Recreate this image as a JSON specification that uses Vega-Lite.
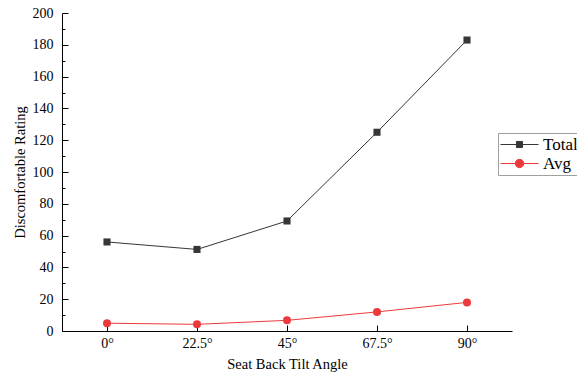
{
  "$schema": "https://vega.github.io/schema/vega-lite/v6.json",
  "width": 450,
  "height": 318,
  "autosize": {"type": "none"},
  "padding": {"left": 62, "top": 13, "right": 65, "bottom": 43},
  "background": "white",
  "config": {
    "view": {"stroke": null},
    "font": "Liberation Serif",
    "axis": {
      "domainColor": "black",
      "tickColor": "black",
      "labelColor": "black",
      "titleColor": "black",
      "labelFont": "Liberation Serif",
      "titleFont": "Liberation Serif",
      "labelFontSize": 14,
      "titleFontSize": 14.5,
      "titleFontWeight": "normal",
      "grid": false,
      "domainWidth": 1,
      "tickWidth": 1
    }
  },
  "data": {
    "values": [
      {"angle": "0°", "series": "Total", "value": 56},
      {"angle": "22.5°", "series": "Total", "value": 51.3},
      {"angle": "45°", "series": "Total", "value": 69.2},
      {"angle": "67.5°", "series": "Total", "value": 125},
      {"angle": "90°", "series": "Total", "value": 183},
      {"angle": "0°", "series": "Avg", "value": 4.9},
      {"angle": "22.5°", "series": "Avg", "value": 4.2},
      {"angle": "45°", "series": "Avg", "value": 6.7},
      {"angle": "67.5°", "series": "Avg", "value": 12},
      {"angle": "90°", "series": "Avg", "value": 18}
    ]
  },
  "encoding": {
    "x": {
      "field": "angle",
      "type": "ordinal",
      "sort": ["0°", "22.5°", "45°", "67.5°", "90°"],
      "scale": {"type": "point", "padding": 0.5},
      "axis": {
        "title": "Seat Back Tilt Angle",
        "labelAngle": 0,
        "tickSize": -6,
        "labelPadding": 11,
        "titlePadding": 7
      }
    }
  },
  "layer": [
    {
      "mark": {"type": "line", "strokeWidth": 1},
      "encoding": {
        "y": {
          "field": "value",
          "type": "quantitative",
          "scale": {"domain": [0, 200], "nice": false},
          "axis": {
            "title": "Discomfortable Rating",
            "values": [0, 20, 40, 60, 80, 100, 120, 140, 160, 180, 200],
            "tickSize": -6,
            "labelPadding": 15,
            "titlePadding": 5
          }
        },
        "color": {
          "field": "series",
          "type": "nominal",
          "scale": {"domain": ["Total", "Avg"], "range": ["#363636", "#ec3a3c"]},
          "legend": {
            "title": null,
            "orient": "none",
            "legendX": 436,
            "legendY": 120,
            "padding": 2,
            "strokeColor": "#a0a0a0",
            "fillColor": "white",
            "labelFont": "Liberation Serif",
            "labelFontSize": 17,
            "labelColor": "black",
            "labelOffset": 4,
            "symbolSize": 1444,
            "clipHeight": 19,
            "rowPadding": 0,
            "encode": {
              "symbols": {
                "update": {
                  "shape": {"signal": "datum.value === 'Total' ? 'M-1,0H1M-0.16,-0.16H0.16V0.16H-0.16Z' : 'M-1,0H1M0.22,0A0.22,0.22,0,1,1,-0.22,0A0.22,0.22,0,1,1,0.22,0Z'"},
                  "fill": {"signal": "datum.value === 'Total' ? '#4d4d4d' : '#ec3a3c'"},
                  "stroke": {"signal": "datum.value === 'Total' ? '#363636' : '#ec3a3c'"},
                  "strokeWidth": {"value": 1},
                  "opacity": {"value": 1}
                }
              }
            }
          }
        }
      }
    },
    {
      "transform": [{"filter": "datum.series === 'Total'"}],
      "mark": {"type": "point", "filled": true, "opacity": 1, "shape": "square", "size": 50},
      "encoding": {
        "y": {
          "field": "value",
          "type": "quantitative",
          "axis": {
            "title": null,
            "orient": "left",
            "values": [10, 30, 50, 70, 90, 110, 130, 150, 170, 190],
            "labels": false,
            "domain": false,
            "tickSize": -3
          }
        },
        "color": {
          "field": "series",
          "type": "nominal",
          "scale": {"domain": ["Total", "Avg"], "range": ["#4d4d4d", "#ec3a3c"]}
        }
      }
    },
    {
      "transform": [{"filter": "datum.series === 'Avg'"}],
      "mark": {"type": "point", "filled": true, "opacity": 1, "shape": "circle", "size": 64},
      "encoding": {
        "y": {
          "field": "value",
          "type": "quantitative",
          "axis": null
        },
        "color": {
          "field": "series",
          "type": "nominal",
          "scale": {"domain": ["Total", "Avg"], "range": ["#4d4d4d", "#ec3a3c"]}
        }
      }
    }
  ],
  "resolve": {"axis": {"y": "independent"}}
}
